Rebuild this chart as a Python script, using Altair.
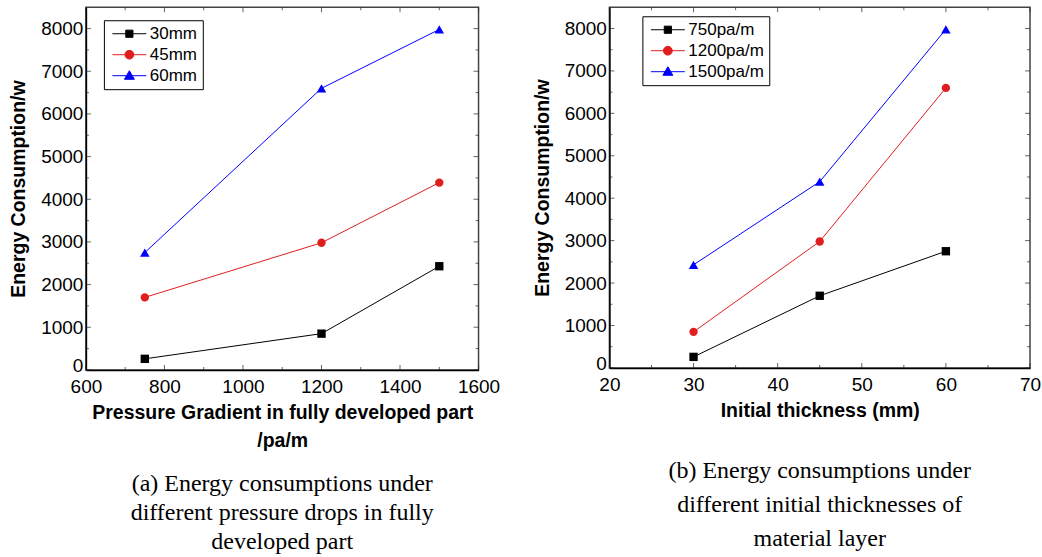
import altair as alt
import pandas as pd

# ---- data ----
pressure_gradient = [750, 1200, 1500]      # pa/m
thickness = [30, 45, 60]                   # mm
energy_30mm = [260, 850, 2430]             # W, at 750/1200/1500 pa/m
energy_45mm = [1700, 2980, 4390]
energy_60mm = [2750, 6600, 7980]

series_a = ["30mm", "45mm", "60mm"]
series_b = ["750pa/m", "1200pa/m", "1500pa/m"]

x_ticks_a = [600, 800, 1000, 1200, 1400, 1600]
x_minor_a = [700, 900, 1100, 1300, 1500]
x_ticks_b = [20, 30, 40, 50, 60, 70]
x_minor_b = [25, 35, 45, 55, 65]
y_ticks = [0, 1000, 2000, 3000, 4000, 5000, 6000, 7000, 8000]
y_minor = [500, 1500, 2500, 3500, 4500, 5500, 6500, 7500]

colors = ["#000000", "#e01e1e", "#0000ff"]
marker_shapes = ["square", "circle", "triangle-up"]
marker_sizes = [70, 70, 90]
legend_paths = [
    "M-0.625,0H3.625M1.05,-0.45H1.95V0.45H1.05Z",
    "M-0.625,0H3.625M2.05,0A0.55,0.55,0,1,1,0.95,0A0.55,0.55,0,1,1,2.05,0Z",
    "M-0.625,0H3.625M1.5,-0.62L2.12,0.45L0.88,0.45Z",
]

energy_rows = [energy_30mm, energy_45mm, energy_60mm]

# panel (a): x = pressure gradient, one series per thickness
rows_a = []
for s, vals in zip(series_a, energy_rows):
    for p, e in zip(pressure_gradient, vals):
        rows_a.append({"x": p, "energy": e, "series": s})
df_a = pd.DataFrame(rows_a)

# panel (b): x = thickness, one series per pressure gradient
rows_b = []
for j, s in enumerate(series_b):
    for i, t in enumerate(thickness):
        rows_b.append({"x": t, "energy": energy_rows[i][j], "series": s})
df_b = pd.DataFrame(rows_b)

SANS = "Liberation Sans"
SERIF = "Liberation Serif"


def pick_expr(keys, values):
    expr = "'%s'" % values[-1]
    for k, v in reversed(list(zip(keys[:-1], values[:-1]))):
        expr = "datum.value === '%s' ? '%s' : (%s)" % (k, v, expr)
    return expr


def panel(df, xdomain, xmajor, xminor, series, xtitle, caption, w, h,
          lx, ly, cap_offset, cap_lh):
    xscale = alt.Scale(domain=xdomain, nice=False, zero=False)
    yscale = alt.Scale(domain=[0, 8500], nice=False, zero=True)
    x_axis = alt.Axis(values=xmajor, title=xtitle, format="d",
                      labelFlush=False, labelPadding=8, titlePadding=7,
                      titleLineHeight=28)
    y_axis = alt.Axis(values=y_ticks, title="Energy Consumption/w",
                      format="d", labelFlush=False, labelPadding=3,
                      titlePadding=12,
                      labelOffset={"condition": {"test": "datum.value === 0",
                                                 "value": -4},
                                   "value": 0})
    x_enc = alt.X("x:Q", scale=xscale, axis=x_axis)
    y_enc = alt.Y("energy:Q", scale=yscale, axis=y_axis)
    cscale = alt.Scale(domain=series, range=colors)
    leg = alt.Legend(orient="none", legendX=lx, legendY=ly, title=None,
                     strokeColor="black", fillColor="white", padding=5,
                     symbolType=alt.ExprRef(expr=pick_expr(series, legend_paths)),
                     symbolFillColor=alt.ExprRef(expr=pick_expr(series, colors)),
                     symbolSize=256, symbolStrokeWidth=1, symbolOpacity=1,
                     labelFont=SANS, labelFontSize=17, labelColor="black",
                     labelOffset=24, rowPadding=3, cornerRadius=0)
    base = alt.Chart(df)
    lines = base.mark_line(strokeWidth=1).encode(
        x=x_enc, y=y_enc,
        color=alt.Color("series:N", scale=cscale, legend=leg))
    point_layers = [
        base.transform_filter(alt.datum.series == s).mark_point(
            filled=True, size=sz, opacity=1, shape=shp).encode(
            x=x_enc, y=y_enc,
            color=alt.Color("series:N", scale=cscale, legend=None))
        for s, shp, sz in zip(series, marker_shapes, marker_sizes)
    ]

    def xticks(values, size, ydatum, off):
        return alt.Chart(pd.DataFrame({"v": values})).mark_tick(
            orient="vertical", size=size, thickness=1, color="#222",
            yOffset=off).encode(
            x=alt.X("v:Q", scale=xscale, axis=x_axis),
            y=alt.YDatum(ydatum, scale=yscale, axis=y_axis))

    def yticks(values, size, xdatum, off):
        return alt.Chart(pd.DataFrame({"v": values})).mark_tick(
            orient="horizontal", size=size, thickness=1, color="#222",
            xOffset=off).encode(
            y=alt.Y("v:Q", scale=yscale, axis=y_axis),
            x=alt.XDatum(xdatum, scale=xscale, axis=x_axis))

    tick_layers = [
        xticks(xmajor, 5, 0, -2.5), xticks(xminor, 3, 0, -1.5),
        xticks(xmajor, 5, 8500, 2.5), xticks(xminor, 3, 8500, 1.5),
        yticks(y_ticks, 5, xdomain[0], 2.5), yticks(y_minor, 3, xdomain[0], 1.5),
        yticks(y_ticks, 5, xdomain[1], -2.5), yticks(y_minor, 3, xdomain[1], -1.5),
    ]

    return alt.layer(lines, *point_layers, *tick_layers).properties(
        width=w, height=h,
        title=alt.TitleParams(caption, orient="bottom", anchor="middle",
                              frame="group", font=SERIF, fontSize=24,
                              fontWeight="normal", lineHeight=cap_lh,
                              offset=cap_offset, color="black"))


left = panel(df_a, [600, 1600], x_ticks_a, x_minor_a, series_a,
             ["Pressure Gradient in fully developed part", "/pa/m"],
             ["(a) Energy consumptions under",
              "different pressure drops in fully",
              "developed part"],
             393, 363, 18, 13, 22, 29)
right = panel(df_b, [20, 70], x_ticks_b, x_minor_b, series_b,
              "Initial thickness (mm)",
              ["(b) Energy consumptions under",
               "different initial thicknesses of",
               "material layer"],
              421, 361, 33, 9, 39, 34)

chart = alt.hconcat(left, right, spacing=131, bounds="flush").resolve_scale(
    color="independent"
).configure(
    padding={"left": 7, "top": 6, "right": 0, "bottom": 0},
    background="white",
).configure_view(
    stroke="#444", strokeWidth=1.5
).configure_axis(
    labelFont=SANS, labelFontSize=19, labelColor="black",
    titleFont=SANS, titleFontSize=19.5, titleFontWeight="bold",
    titleColor="black", domainColor="black", domainWidth=1.5,
    ticks=False, grid=False,
)

chart.save("out.html", embed_options={"renderer": "svg", "actions": False})
